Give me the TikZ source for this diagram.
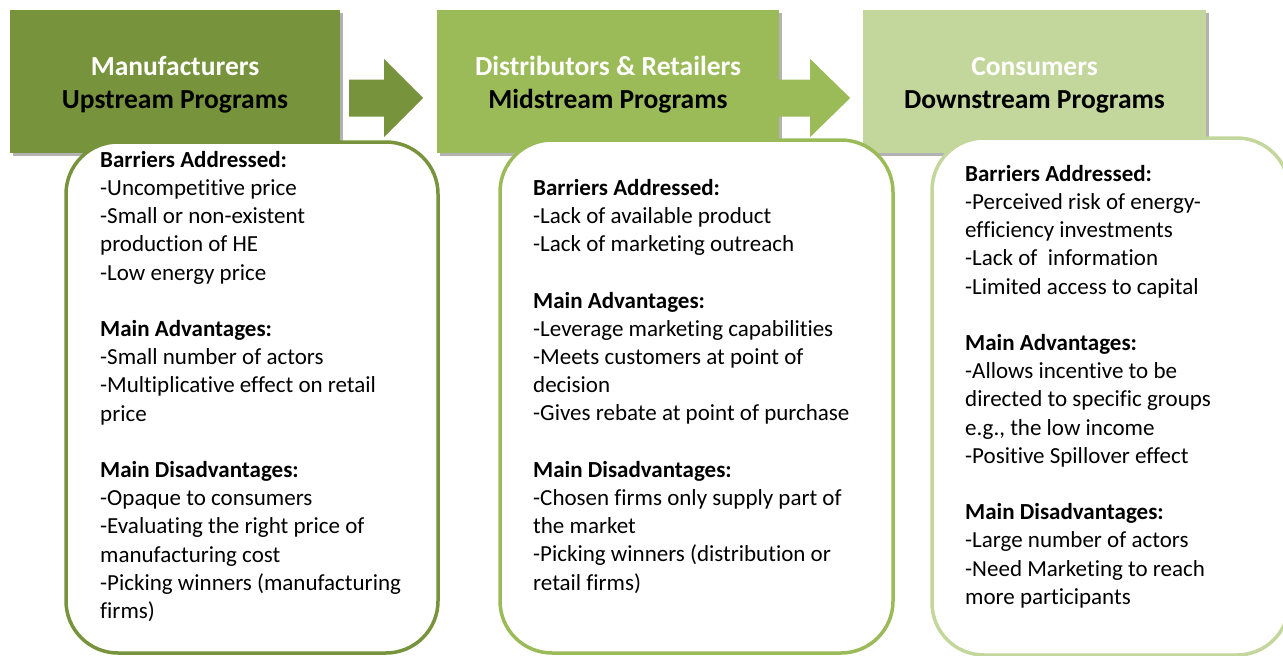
\documentclass[tikz,border=0pt]{standalone}
\usepackage{fontspec}
\setmainfont[Ligatures=NoCommon]{Carlito}
\usetikzlibrary{shadows}
\definecolor{gdark}{HTML}{77933C}
\definecolor{gmid}{HTML}{9BBB59}
\definecolor{glight}{HTML}{C3D69B}
\tikzset{
  header/.style={rectangle, draw=none, fill=#1, minimum width=330pt, minimum height=143pt, inner sep=0pt,
    drop shadow={shadow xshift=3pt, shadow yshift=-3pt, opacity=0.3, fill=black}},
  htext/.style={anchor=north, align=center, inner sep=0pt, font=\fontsize{27.5}{33}\selectfont\bfseries},
  infobox/.style={rectangle, draw=#1, line width=3.5pt, fill=white, rounded corners=52pt, inner sep=0pt},
  btext/.style={anchor=north west, align=left, inner sep=0pt, font=\fontsize{23}{28.2}\selectfont},
  blockarrow/.style={fill=#1, draw=none}
}
\begin{document}
\begin{tikzpicture}[x=1pt, y=-1pt]
\useasboundingbox (0,0) rectangle (1283,656);
\clip (0,0) rectangle (1283,656);
% headers
\node[header=gdark, minimum width=330pt] (h1) at (175,81.5) {};
\node[header=gmid, minimum width=342pt] (h2) at (608,81.5) {};
\node[header=glight, minimum width=343pt] (h3) at (1034.5,81.5) {};
\node[htext] (t1) at (175,52.4) {\strut\textcolor{white}{Manufacturers}\\Upstream Programs};
\node[htext] (t2) at (608,52.4) {\strut\textcolor{white}{Distributors \& Retailers}\\Midstream Programs};
\node[htext] (t3) at (1034.5,52.4) {\strut\textcolor{white}{Consumers}\\Downstream Programs};
% block arrows
\coordinate (a1) at (h1.east |- 0,98);
\fill[blockarrow=gdark] ([xshift=9pt,yshift=-18.5pt]a1) -- ([xshift=44pt,yshift=-18.5pt]a1) -- ([xshift=44pt,yshift=-39pt]a1)
  -- ([xshift=83pt]a1) -- ([xshift=44pt,yshift=39pt]a1) -- ([xshift=44pt,yshift=18.5pt]a1) -- ([xshift=9pt,yshift=18.5pt]a1) -- cycle;
\coordinate (a2) at (h2.east |- 0,98);
\fill[blockarrow=gmid] ([xshift=0pt,yshift=-18.5pt]a2) -- ([xshift=31pt,yshift=-18.5pt]a2) -- ([xshift=31pt,yshift=-39pt]a2)
  -- ([xshift=71pt]a2) -- ([xshift=31pt,yshift=39pt]a2) -- ([xshift=31pt,yshift=18.5pt]a2) -- ([xshift=0pt,yshift=18.5pt]a2) -- cycle;
% info boxes
\node[infobox=gdark, minimum width=372pt, minimum height=511pt] (b1) at (252,397.5) {};
\node[infobox=gmid, minimum width=393pt, minimum height=513pt] (b2) at (696.5,396.5) {};
\node[infobox=glight, minimum width=357pt, minimum height=517pt] (b3) at (1110.5,396.5) {};
\node[btext] (x1) at (100,147.3) {\strut\textbf{Barriers Addressed:}\\
-Uncompetitive price\\
-Small or non-existent\\
production of HE\\
-Low energy price\\
\\
\textbf{Main Advantages:}\\
-Small number of actors\\
-Multiplicative effect on retail\\
price\\
\\
\textbf{Main Disadvantages:}\\
-Opaque to consumers\\
-Evaluating the right price of\\
manufacturing cost\\
-Picking winners (manufacturing\\
firms)};
\node[btext] (x2) at (533,175.3) {\strut\textbf{Barriers Addressed:}\\
-Lack of available product\\
-Lack of marketing outreach\\
\\
\textbf{Main Advantages:}\\
-Leverage marketing capabilities\\
-Meets customers at point of\\
decision\\
-Gives rebate at point of purchase\\
\\
\textbf{Main Disadvantages:}\\
-Chosen firms only supply part of\\
the market\\
-Picking winners (distribution or\\
retail firms)};
\node[btext] (x3) at (965,161.3) {\strut\textbf{Barriers Addressed:}\\
-Perceived risk of energy-\\
efficiency investments\\
-Lack of~ information\\
-Limited access to capital\\
\\
\textbf{Main Advantages:}\\
-Allows incentive to be\\
directed to specific groups\\
e.g., the low income\\
-Positive Spillover effect\\
\\
\textbf{Main Disadvantages:}\\
-Large number of actors\\
-Need Marketing to reach\\
more participants};
\end{tikzpicture}
\end{document}
